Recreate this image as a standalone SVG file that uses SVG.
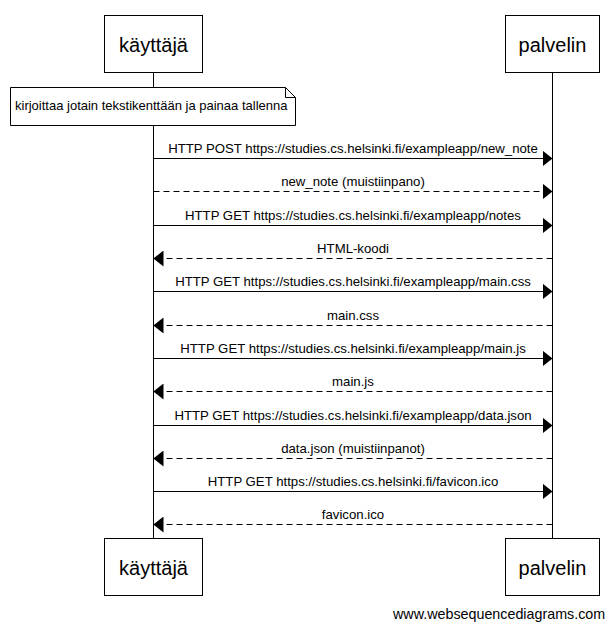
<svg xmlns="http://www.w3.org/2000/svg" width="614" height="629" viewBox="0 0 614 629">
<style>
.box{fill:#fff;stroke:#000;stroke-width:1}
.life{stroke:#000;stroke-width:1}
.actor{font-family:"Liberation Sans",Arial,sans-serif;font-size:20px;fill:#000;text-anchor:middle}
.lbl{font-family:"Liberation Sans",Arial,sans-serif;font-size:13.2px;fill:#000;text-anchor:middle}
.note{font-family:"Liberation Sans",Arial,sans-serif;font-size:13px;fill:#000}
.msg{stroke:#000;stroke-width:1;fill:none}
.ret{stroke:#000;stroke-width:1;fill:none;stroke-dasharray:6,4}
.foot{font-family:"Liberation Sans",Arial,sans-serif;font-size:14.3px;fill:#000}
</style>
<defs>
<marker id="ah" markerWidth="10" markerHeight="16" refX="10" refY="8" orient="auto" markerUnits="userSpaceOnUse">
<path d="M0,0 L10,8 L0,16 Z" fill="#000"/>
</marker>
</defs>
<rect width="614" height="629" fill="#fff"/>
<g id="lifelines">
<line class="life" x1="153.5" y1="72" x2="153.5" y2="538"/>
<line class="life" x1="552.5" y1="72" x2="552.5" y2="538"/>
</g>
<g id="actor-kayttaja-top">
<rect class="box" x="104.5" y="15.5" width="98" height="57"/>
<text class="actor" x="153.5" y="52">käyttäjä</text>
</g>
<g id="actor-palvelin-top">
<rect class="box" x="505.5" y="15.5" width="94" height="57"/>
<text class="actor" x="552.5" y="52">palvelin</text>
</g>
<g id="note">
<path class="box" d="M10.5,87.5 H285.5 L295.5,97.5 V125.5 H10.5 Z"/>
<path class="msg" d="M285.5,87.5 V97.5 H295.5"/>
<text class="note" x="15" y="110">kirjoittaa jotain tekstikenttään ja painaa tallenna</text>
</g>
<g id="connectors">
<line class="msg" x1="153.5" y1="158.5" x2="552.5" y2="158.5" marker-end="url(#ah)"/>
<text class="lbl" x="353" y="153">HTTP POST https://studies.cs.helsinki.fi/exampleapp/new_note</text>
<line class="ret" x1="153.5" y1="191.5" x2="552.5" y2="191.5" marker-end="url(#ah)"/>
<text class="lbl" x="353" y="186">new_note (muistiinpano)</text>
<line class="msg" x1="153.5" y1="225.5" x2="552.5" y2="225.5" marker-end="url(#ah)"/>
<text class="lbl" x="353" y="220">HTTP GET https://studies.cs.helsinki.fi/exampleapp/notes</text>
<line class="ret" x1="552.5" y1="258.5" x2="153.5" y2="258.5" marker-end="url(#ah)"/>
<text class="lbl" x="353" y="253">HTML-koodi</text>
<line class="msg" x1="153.5" y1="291.5" x2="552.5" y2="291.5" marker-end="url(#ah)"/>
<text class="lbl" x="353" y="286">HTTP GET https://studies.cs.helsinki.fi/exampleapp/main.css</text>
<line class="ret" x1="552.5" y1="325.5" x2="153.5" y2="325.5" marker-end="url(#ah)"/>
<text class="lbl" x="353" y="320">main.css</text>
<line class="msg" x1="153.5" y1="358.5" x2="552.5" y2="358.5" marker-end="url(#ah)"/>
<text class="lbl" x="353" y="353">HTTP GET https://studies.cs.helsinki.fi/exampleapp/main.js</text>
<line class="ret" x1="552.5" y1="391.5" x2="153.5" y2="391.5" marker-end="url(#ah)"/>
<text class="lbl" x="353" y="386">main.js</text>
<line class="msg" x1="153.5" y1="425.5" x2="552.5" y2="425.5" marker-end="url(#ah)"/>
<text class="lbl" x="353" y="420">HTTP GET https://studies.cs.helsinki.fi/exampleapp/data.json</text>
<line class="ret" x1="552.5" y1="458.5" x2="153.5" y2="458.5" marker-end="url(#ah)"/>
<text class="lbl" x="353" y="453">data.json (muistiinpanot)</text>
<line class="msg" x1="153.5" y1="491.5" x2="552.5" y2="491.5" marker-end="url(#ah)"/>
<text class="lbl" x="353" y="486">HTTP GET https://studies.cs.helsinki.fi/favicon.ico</text>
<line class="ret" x1="552.5" y1="524.5" x2="153.5" y2="524.5" marker-end="url(#ah)"/>
<text class="lbl" x="353" y="519">favicon.ico</text>
</g>
<g id="actor-kayttaja-bottom">
<rect class="box" x="104.5" y="538.5" width="98" height="57"/>
<text class="actor" x="153.5" y="575">käyttäjä</text>
</g>
<g id="actor-palvelin-bottom">
<rect class="box" x="505.5" y="538.5" width="94" height="57"/>
<text class="actor" x="552.5" y="575">palvelin</text>
</g>
<text class="foot" x="393" y="619">www.websequencediagrams.com</text>
</svg>
